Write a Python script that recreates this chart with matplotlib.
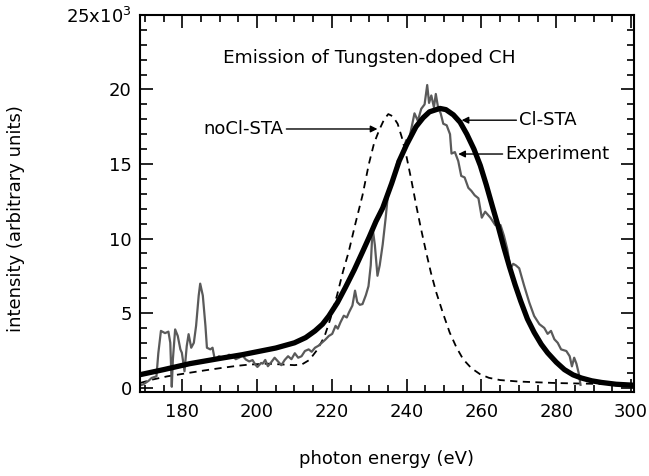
import matplotlib
matplotlib.use("Agg")
import matplotlib.pyplot as plt
from matplotlib.ticker import MultipleLocator, FixedLocator, FixedFormatter

# photon energy (eV) / intensity (x10^3)
e_exp = [168.7, 169.5, 171.0, 171.8, 173.1, 173.6, 174.3, 175.4, 176.3, 176.8,
         177.2, 177.5, 178.1, 178.8, 179.5, 179.9, 180.6, 181.2, 181.7, 182.4,
         183.1, 183.7, 184.4, 184.8, 185.5, 186.2, 186.6, 187.5, 188.1, 188.7,
         189.8, 190.7, 191.6, 192.5, 193.4, 194.3, 195.2, 196.1, 197.0, 197.9,
         198.8, 199.5, 200.1, 201.1, 201.5, 202.2, 202.9, 203.8, 204.7, 205.6,
         206.5, 207.4, 208.3, 209.2, 210.1, 211.0, 211.9, 212.8, 213.8, 214.6,
         215.5, 216.4, 217.3, 218.2, 219.2, 220.1, 221.0, 221.6, 222.3, 223.2,
         224.0, 224.6, 225.5, 226.2, 226.8, 227.5, 228.2, 229.1, 229.8, 230.4,
         230.9, 231.5, 232.2, 232.8, 233.6, 234.4, 234.9, 235.4, 236.1, 236.7,
         237.6, 238.3, 239.0, 239.9, 240.5, 241.2, 242.1, 243.0, 243.9, 244.8,
         245.5, 246.0, 246.6, 247.3, 247.8, 248.4, 249.1, 249.8, 250.7, 251.6,
         252.0, 252.9, 253.8, 254.6, 255.5, 256.5, 257.3, 258.2, 259.2, 260.1,
         261.0, 262.4, 263.7, 265.1, 266.0, 266.9, 267.8, 268.5, 269.2, 270.1,
         271.4, 272.8, 274.1, 275.5, 276.8, 277.7, 278.6, 279.5, 280.4, 281.3,
         282.7, 283.6, 284.2, 284.8, 285.4, 286.0, 286.5]
i_exp = [0.15, 0.2, 0.45, 0.64, 0.75, 2.3, 3.8, 3.65, 3.75, 3.0,
         0.05, 1.9, 3.9, 3.46, 2.56, 2.33, 1.09, 2.78, 3.58, 2.67,
         3.0, 4.14, 6.17, 6.97, 6.17, 4.14, 2.67, 2.56, 2.67, 1.88,
         2.1, 2.0, 2.0, 2.2, 2.15, 1.9, 2.0, 2.15, 1.88, 1.75,
         1.84, 1.55, 1.38, 1.65, 1.6, 1.85, 1.43, 1.7, 2.0, 1.75,
         1.5, 1.85, 2.1, 1.9, 2.3, 2.0, 2.1, 2.45, 2.56, 2.4,
         2.67, 2.8, 3.0, 3.2, 3.46, 3.6, 4.14, 3.95, 4.37, 4.82,
         4.7, 5.05, 5.5, 6.5, 5.73, 5.55, 5.6, 6.2, 6.8, 8.2,
         10.7, 9.57, 7.5, 8.2, 9.6, 11.4, 12.7, 13.4, 13.9, 14.3,
         15.2, 15.4, 15.9, 16.6, 16.5, 17.3, 18.4, 17.9, 18.7, 19.0,
         20.3, 19.1, 19.6, 18.8, 19.7, 18.8, 18.4, 17.7, 17.6, 17.0,
         15.7, 15.8, 15.2, 14.2, 14.1, 13.4, 13.2, 12.9, 12.7, 11.4,
         11.8, 11.4, 10.9, 10.9, 10.2, 9.3, 8.0, 8.3, 8.2, 8.0,
         6.85, 5.7, 4.8, 4.25, 4.0, 3.6, 3.8, 3.24, 3.0, 2.56,
         2.45, 2.1, 1.42, 2.0, 1.6, 0.98, 0.18]

e_cl = [168.7, 175.0, 182.0, 190.0, 196.0, 201.0, 205.0, 210.0, 213.0, 215.5,
        217.5, 219.2, 221.5, 223.6, 226.0, 228.2, 230.0, 231.8, 233.6, 236.0,
        238.0, 240.0, 242.5, 244.4, 246.1, 248.9, 250.5, 252.5, 254.3, 256.1,
        258.0, 259.7, 261.3, 263.0, 264.5, 266.0, 267.5, 269.0, 270.5, 272.3,
        274.1, 276.0, 277.7, 280.0, 282.2, 284.5, 286.7, 289.5, 292.1, 296.0,
        301.0]
i_cl = [0.86, 1.2, 1.6, 1.95, 2.2, 2.45, 2.65, 3.0, 3.35, 3.8,
        4.25, 4.8, 5.7, 6.7, 7.9, 9.1, 10.1, 11.15, 12.05, 13.7,
        15.2, 16.3, 17.5, 18.1, 18.5, 18.73, 18.65, 18.3, 17.8, 17.0,
        16.0, 14.9, 13.6, 12.1, 10.8, 9.4, 8.1, 6.9, 5.8, 4.6,
        3.7, 2.9, 2.33, 1.7, 1.2, 0.85, 0.64, 0.45, 0.34, 0.22,
        0.15]

e_nocl = [168.7, 171.8, 176.0, 181.7, 186.0, 190.7, 194.5, 197.9, 202.8, 206.5,
          210.0, 212.0, 214.0, 216.0, 218.0, 219.6, 221.4, 223.0, 224.5, 226.3,
          228.2, 229.9, 231.3, 232.7, 234.0, 235.1, 236.3, 237.6, 238.7, 239.8,
          241.2, 242.5, 243.8, 245.2, 246.5, 247.9, 249.7, 251.5, 253.3, 255.1,
          257.3, 259.6, 262.0, 265.0, 270.0, 275.0, 280.0, 290.0, 301.0]
i_nocl = [0.3, 0.52, 0.75, 0.98, 1.15, 1.32, 1.45, 1.54, 1.6, 1.55,
          1.5, 1.55, 1.85, 2.5, 3.4, 4.6, 6.2, 7.8, 9.1, 11.0,
          12.9, 15.0, 16.4, 17.3, 18.0, 18.35, 18.2, 17.7, 16.8, 15.7,
          14.0, 12.3, 10.7, 9.1, 7.7, 6.4, 5.0, 3.7, 2.7, 1.9,
          1.3, 0.9, 0.65, 0.5, 0.4, 0.35, 0.3, 0.25, 0.2]

y_ticks = [0, 5, 10, 15, 20, 25]
y_labels = ["0", "5", "10", "15", "20", "25x10$^3$"]

fig = plt.figure(figsize=(6.49, 4.76), dpi=100)
ax = fig.add_axes([0.2157, 0.1765, 0.7612, 0.792])

ax.plot(e_nocl, i_nocl, color="black", lw=1.3, ls=(0, (4, 3)))
ax.plot(e_exp, i_exp, color="#5a5a5a", lw=1.6)
ax.plot(e_cl, i_cl, color="black", lw=3.8)

ax.set_xlim(168.7, 300.8)
ax.set_ylim(-0.3, 25)

ax.xaxis.set_major_locator(MultipleLocator(20))
ax.xaxis.set_minor_locator(MultipleLocator(5))
ax.yaxis.set_major_locator(FixedLocator(y_ticks))
ax.yaxis.set_major_formatter(FixedFormatter(y_labels))
ax.yaxis.set_minor_locator(MultipleLocator(1))
ax.tick_params(which="both", direction="in", top=True, right=True,
               labelsize=13, width=1.2)
ax.tick_params(which="major", length=9.5)
ax.tick_params(which="minor", length=5)
ax.tick_params(axis="x", pad=8)
ax.tick_params(axis="y", pad=6)
for s in ax.spines.values():
    s.set_linewidth(1.5)

ax.set_xlabel("photon energy (eV)", fontsize=13)
ax.set_ylabel("intensity (arbitrary units)", fontsize=13)
ax.xaxis.set_label_coords(0.5, -0.155)
ax.yaxis.set_label_coords(-0.233, 0.46)

ax.text(230.1, 22.1, "Emission of Tungsten-doped CH", fontsize=13.3,
        ha="center", va="center")

arrow = dict(arrowstyle="-|>", color="black", lw=1.0, mutation_scale=10,
             shrinkA=0, shrinkB=0)
ax.annotate("noCl-STA", xy=(232.2, 17.35), xytext=(207.1, 17.35),
            fontsize=13, ha="right", va="center", arrowprops=arrow)
ax.annotate("Cl-STA", xy=(254.7, 17.94), xytext=(270.1, 17.94),
            fontsize=13, ha="left", va="center", arrowprops=arrow)
ax.annotate("Experiment", xy=(253.8, 15.67), xytext=(266.4, 15.67),
            fontsize=13, ha="left", va="center", arrowprops=arrow)

fig.savefig("out.png", dpi=100)
